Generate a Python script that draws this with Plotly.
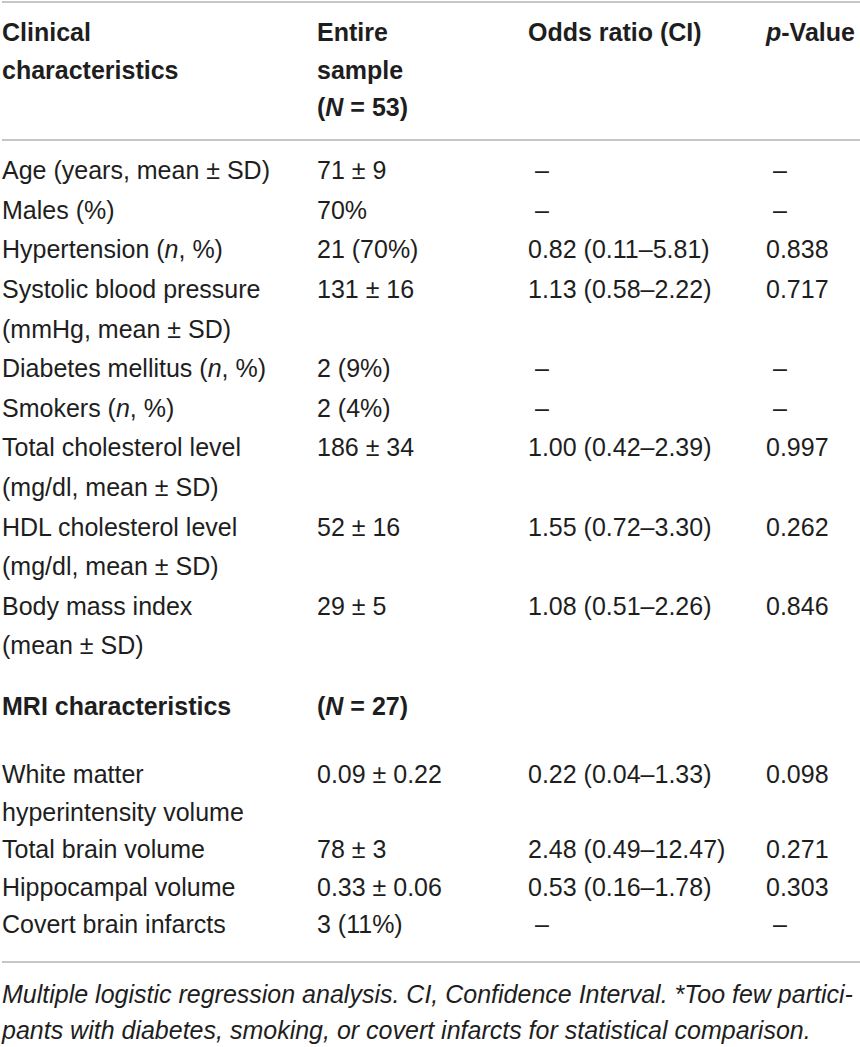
import plotly.graph_objects as go

# ---- table content ----
header_cells = ["Clinical<br>characteristics",
                "Entire<br>sample<br>(<i>N</i> = 53)",
                "Odds ratio (CI)",
                "<i>p</i>-Value"]

clin_labels = ["Age (years, mean ± SD)", "Males (%)", "Hypertension (<i>n</i>, %)",
               "Systolic blood pressure<br>(mmHg, mean ± SD)",
               "Diabetes mellitus (<i>n</i>, %)", "Smokers (<i>n</i>, %)",
               "Total cholesterol level<br>(mg/dl, mean ± SD)",
               "HDL cholesterol level<br>(mg/dl, mean ± SD)",
               "Body mass index<br>(mean ± SD)"]
clin_sample = ["71 ± 9", "70%", "21 (70%)", "131 ± 16", "2 (9%)", "2 (4%)",
               "186 ± 34", "52 ± 16", "29 ± 5"]
clin_odds = ["–", "–", "0.82 (0.11–5.81)", "1.13 (0.58–2.22)", "–", "–",
             "1.00 (0.42–2.39)", "1.55 (0.72–3.30)", "1.08 (0.51–2.26)"]
clin_p = ["–", "–", "0.838", "0.717", "–", "–", "0.997", "0.262", "0.846"]

mri_header = ["MRI characteristics", "(<i>N</i> = 27)", "", ""]
mri_labels = ["White matter<br>hyperintensity volume", "Total brain volume",
              "Hippocampal volume", "Covert brain infarcts"]
mri_sample = ["0.09 ± 0.22", "78 ± 3", "0.33 ± 0.06", "3 (11%)"]
mri_odds = ["0.22 (0.04–1.33)", "2.48 (0.49–12.47)", "0.53 (0.16–1.78)", "–"]
mri_p = ["0.098", "0.271", "0.303", "–"]

note = ["Multiple logistic regression analysis. CI, Confidence Interval. *Too few partici-<br>"
        "pants with diabetes, smoking, or covert infarcts for statistical comparison."]

# ---- layout constants ----
W, H = 860, 1047
COL_X = [2, 317, 528, 766]
DASH_SHIFT = 7
DY = 2
FONT = "Liberation Sans"
INK = "#1e1e1e"
RULE = "#c6c6c6"


def layout_rows(columns, y0, pitch):
    xs, ys, texts = [], [], []
    slot = 0
    for r in range(len(columns[0])):
        cells = [col[r].split("<br>") if col[r] else [] for col in columns]
        for c, lines in enumerate(cells):
            for k, line in enumerate(lines):
                xs.append(COL_X[c] + (DASH_SHIFT if line == "–" else 0))
                ys.append(y0 + DY + (slot + k) * pitch)
                texts.append(line)
        slot += max(len(l) for l in cells)
    return xs, ys, texts


def text_trace(xs, ys, texts, size=25, weight="normal", style="normal"):
    return go.Scatter(x=xs, y=ys, text=texts, mode="text",
                      textposition="middle right", hoverinfo="skip",
                      cliponaxis=False,
                      textfont=dict(family=FONT, size=size, color=INK,
                                    weight=weight, style=style))


fig = go.Figure()

hx, hy, ht = layout_rows([[c] for c in header_cells], 33, 37.5)
fig.add_trace(text_trace(hx, hy, ht, weight="bold"))

bx, by, bt = layout_rows([clin_labels, clin_sample, clin_odds, clin_p], 171, 39.6)
fig.add_trace(text_trace(bx, by, bt))

mx, my, mt = layout_rows([[c] for c in mri_header], 707, 38)
fig.add_trace(text_trace(mx, my, mt, weight="bold"))

rx, ry, rt = layout_rows([mri_labels, mri_sample, mri_odds, mri_p], 775, 37.5)
fig.add_trace(text_trace(rx, ry, rt))

nx, ny, nt = layout_rows([note], 995, 36)
fig.add_trace(text_trace(nx, ny, nt, size=25, style="italic"))

for yl in [2, 140, 962]:
    fig.add_shape(type="line", x0=2, x1=W, y0=yl, y1=yl,
                  line=dict(color=RULE, width=2))

fig.update_layout(
    width=W, height=H,
    margin=dict(l=0, r=0, t=0, b=0),
    paper_bgcolor="white", plot_bgcolor="white",
    showlegend=False,
    xaxis=dict(range=[0, W], visible=False, fixedrange=True),
    yaxis=dict(range=[H, 0], visible=False, fixedrange=True),
)

# page body has a default 8px margin; drop it so the figure fills the window
fig.write_html("out.html", config={"displayModeBar": False},
               post_script="document.body.style.margin='0';")
